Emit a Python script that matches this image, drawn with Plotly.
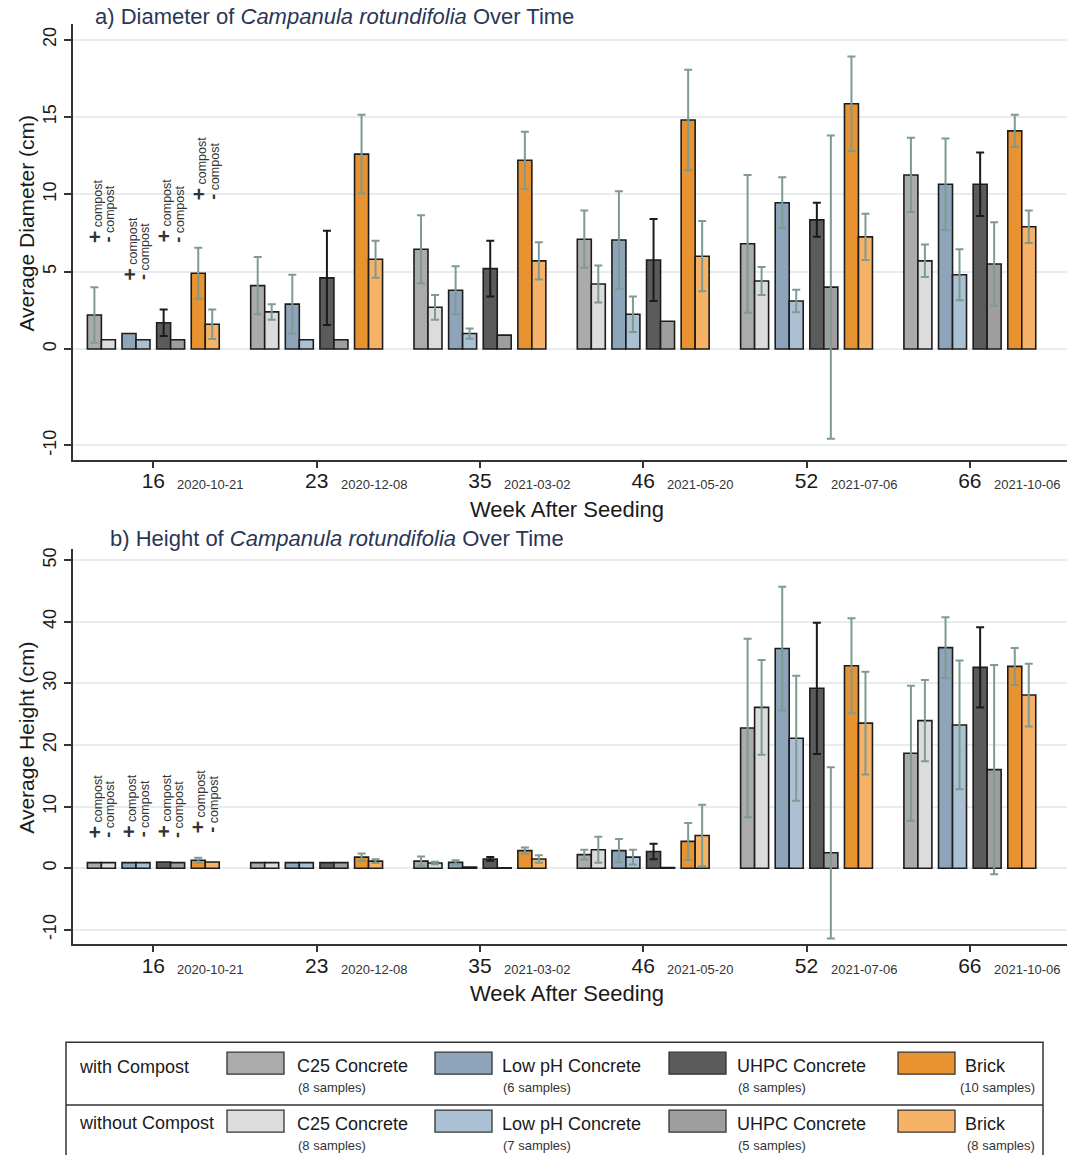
import numpy as np
import plotly.graph_objects as go

# ---------------- data ----------------
weeks = ["16", "23", "35", "46", "52", "66"]
dates = ["2020-10-21", "2020-12-08", "2021-03-02", "2021-05-20", "2021-07-06", "2021-10-06"]
materials = ["C25 Concrete", "Low pH Concrete", "UHPC Concrete", "Brick"]
samples_with = [8, 6, 8, 10]
samples_without = [8, 7, 5, 8]

# a) Diameter (cm): mean and error (None = no visible bar)
diam_c25_with = [2.2, 4.1, 6.45, 7.1, 6.8, 11.25]
diam_c25_with_err = [1.8, 1.85, 2.2, 1.85, 4.45, 2.4]
diam_c25_without = [0.6, 2.4, 2.7, 4.2, 4.4, 5.7]
diam_c25_without_err = [None, 0.5, 0.8, 1.2, 0.9, 1.05]
diam_lowph_with = [1.0, 2.9, 3.8, 7.05, 9.45, 10.65]
diam_lowph_with_err = [None, 1.9, 1.55, 3.15, 1.65, 2.95]
diam_lowph_without = [0.6, 0.6, 1.0, 2.25, 3.1, 4.8]
diam_lowph_without_err = [None, None, 0.33, 1.15, 0.73, 1.65]
diam_uhpc_with = [1.7, 4.6, 5.2, 5.75, 8.35, 10.65]
diam_uhpc_with_err = [0.85, 3.05, 1.8, 2.65, 1.1, 2.05]
diam_uhpc_without = [0.6, 0.6, 0.9, 1.8, 4.0, 5.5]
diam_uhpc_without_err = [None, None, None, None, 9.8, 2.7]
diam_brick_with = [4.9, 12.6, 12.2, 14.8, 15.85, 14.1]
diam_brick_with_err = [1.65, 2.55, 1.85, 3.25, 3.05, 1.05]
diam_brick_without = [1.6, 5.8, 5.7, 6.0, 7.25, 7.9]
diam_brick_without_err = [0.95, 1.2, 1.2, 2.27, 1.5, 1.05]

# b) Height (cm)
height_c25_with = [0.9, 0.9, 1.15, 2.2, 22.75, 18.65]
height_c25_with_err = [None, None, 0.75, 0.8, 14.5, 10.95]
height_c25_without = [0.9, 0.9, 0.85, 3.0, 26.1, 23.95]
height_c25_without_err = [None, None, 0.2, 2.1, 7.7, 6.6]
height_lowph_with = [0.9, 0.9, 0.95, 2.85, 35.65, 35.8]
height_lowph_with_err = [None, None, 0.35, 1.9, 10.05, 4.95]
height_lowph_without = [0.9, 0.9, 0.2, 1.8, 21.1, 23.25]
height_lowph_without_err = [None, None, None, 1.2, 10.15, 10.45]
height_uhpc_with = [1.0, 0.9, 1.5, 2.7, 29.2, 32.6]
height_uhpc_with_err = [None, None, 0.3, 1.25, 10.65, 6.5]
height_uhpc_without = [0.9, 0.9, 0.05, 0.1, 2.5, 16.0]
height_uhpc_without_err = [None, None, None, None, 13.9, 17.0]
height_brick_with = [1.3, 1.8, 2.85, 4.35, 32.85, 32.75]
height_brick_with_err = [0.4, 0.6, 0.5, 3.0, 7.7, 3.0]
height_brick_without = [1.0, 1.15, 1.5, 5.3, 23.55, 28.1]
height_brick_without_err = [None, 0.3, 0.6, 5.0, 8.35, 5.1]

# y ticks (the reference's diameter axis compresses its negative side: the
# gridline labelled "-10" sits where -6.23 falls on the positive-side scale)
diam_tickvals = [-6.23, 0, 5, 10, 15, 20]
diam_ticktext = ["-10", "0", "5", "10", "15", "20"]
height_tickvals = [-10, 0, 10, 20, 30, 40, 50]
height_ticktext = ["-10", "0", "10", "20", "30", "40", "50"]

# ---------------- styling / layout ----------------
W, H = 1069, 1155
FONT = "Liberation Sans, Arial, sans-serif"
ERR_COL = "#7d9b92"
EDGE = "#1c1c1c"
TITLE_COL = "#2a3656"
fill_with = ["#ababab", "#8ea4bb", "#5b5b5b", "#e8932f"]
fill_without = ["#dcdcdc", "#abc0d3", "#9e9e9e", "#f6b368"]
err_with = [ERR_COL, ERR_COL, "#1a1a1a", ERR_COL]
pair_center = [-0.318, -0.106, 0.106, 0.318]
bar_w = 0.0857


def px_x(p):
    return p / W


def px_y(p):
    return 1 - p / H


def errs(lst):
    return np.array([np.nan if v is None else v for v in lst], dtype=float)


diam_with = [diam_c25_with, diam_lowph_with, diam_uhpc_with, diam_brick_with]
diam_with_e = [diam_c25_with_err, diam_lowph_with_err, diam_uhpc_with_err, diam_brick_with_err]
diam_without = [diam_c25_without, diam_lowph_without, diam_uhpc_without, diam_brick_without]
diam_without_e = [diam_c25_without_err, diam_lowph_without_err, diam_uhpc_without_err, diam_brick_without_err]
height_with = [height_c25_with, height_lowph_with, height_uhpc_with, height_brick_with]
height_with_e = [height_c25_with_err, height_lowph_with_err, height_uhpc_with_err, height_brick_with_err]
height_without = [height_c25_without, height_lowph_without, height_uhpc_without, height_brick_without]
height_without_e = [height_c25_without_err, height_lowph_without_err, height_uhpc_without_err, height_brick_without_err]

fig = go.Figure()


def add_panel(vw, ew, vwo, ewo, xa, ya):
    for k in range(4):
        for vals, ev, fill, ec, off, tag in [
            (vw[k], ew[k], fill_with[k], err_with[k], pair_center[k] - bar_w, "with"),
            (vwo[k], ewo[k], fill_without[k], ERR_COL, pair_center[k], "without"),
        ]:
            fig.add_trace(go.Bar(
                x=weeks, y=vals, width=bar_w, offset=off,
                xaxis=xa, yaxis=ya,
                marker=dict(color=fill, line=dict(color=EDGE, width=1.6)),
                error_y=dict(type="data", array=errs(ev), visible=True,
                             color=ec, thickness=2, width=4),
                name=f"{materials[k]} ({tag} compost)", showlegend=False,
            ))


add_panel(diam_with, diam_with_e, diam_without, diam_without_e, "x", "y")
add_panel(height_with, height_with_e, height_without, height_without_e, "x2", "y2")

x_dom = [px_x(73.3), px_x(1067)]
xcommon = dict(type="category", range=[-0.49, 5.595], showline=True, linecolor="#333",
               linewidth=1.5, ticks="outside", ticklen=7, tickwidth=1.5, tickcolor="#333",
               tickfont=dict(size=21, color="#1a1a1a", family=FONT), showgrid=False,
               ticklabelstandoff=-5,
               zeroline=False, domain=x_dom, fixedrange=True)
ycommon = dict(showline=True, linecolor="#333", linewidth=1.5, ticks="outside", ticklen=8,
               tickwidth=1.5, tickcolor="#333", tickangle=-90,
               tickfont=dict(size=18, color="#1a1a1a", family=FONT),
               showgrid=True, gridcolor="#e6ecef", gridwidth=1.5, zeroline=False,
               fixedrange=True)

fig.update_layout(
    width=W, height=H, margin=dict(l=0, r=0, t=0, b=0),
    paper_bgcolor="white", plot_bgcolor="white",
    font=dict(family=FONT, color="#1a1a1a"),
    barmode="overlay", showlegend=False,
    xaxis=dict(anchor="y", **xcommon),
    yaxis=dict(anchor="x", domain=[px_y(458.3), px_y(22)], range=[-7.14, 21.01],
               tickmode="array", tickvals=diam_tickvals, ticktext=diam_ticktext, **ycommon),
    xaxis2=dict(anchor="y2", **xcommon),
    yaxis2=dict(anchor="x2", domain=[px_y(943.3), px_y(548)], range=[-12.25, 51.8],
                tickmode="array", tickvals=height_tickvals, ticktext=height_ticktext, **ycommon),
)

ann = []
# panel titles
ann.append(dict(text="a) Diameter of <i>Campanula rotundifolia</i> Over Time", xref="paper", yref="paper",
                x=px_x(93), y=px_y(15), xanchor="left", yanchor="middle", showarrow=False,
                font=dict(size=22, color=TITLE_COL, family=FONT)))
ann.append(dict(text="b) Height of <i>Campanula rotundifolia</i> Over Time", xref="paper", yref="paper",
                x=px_x(108), y=px_y(537), xanchor="left", yanchor="middle", showarrow=False,
                font=dict(size=22, color=TITLE_COL, family=FONT)))
# axis titles
for txt, ypx in [("Average Diameter (cm)", 222), ("Average Height (cm)", 737)]:
    ann.append(dict(text=txt, xref="paper", yref="paper", x=px_x(27), y=px_y(ypx), textangle=-90,
                    xanchor="center", yanchor="middle", showarrow=False,
                    font=dict(size=21, color="#1a1a1a", family=FONT)))
for ypx in [508, 993]:
    ann.append(dict(text="Week After Seeding", xref="paper", yref="paper", x=px_x(567), y=px_y(ypx),
                    xanchor="center", yanchor="middle", showarrow=False,
                    font=dict(size=22, color="#1a1a1a", family=FONT)))
# dates next to the week ticks
for xa, ypx in [("x", 483), ("x2", 969)]:
    for i, d in enumerate(dates):
        ann.append(dict(text=d, xref=xa, yref="paper", x=i, y=px_y(ypx), xshift=22,
                        xanchor="left", yanchor="middle", showarrow=False,
                        font=dict(size=13, color="#333", family=FONT)))
# +/- compost markers above the first group
plus_txt = "<span style='font-size:21px'><b>+</b></span> compost"
minus_txt = "<span style='font-size:18px'><b>-</b></span> compost"
diam_label_y = [6.75, 4.3, 6.75, 9.5]
height_label_y = [4.6, 4.6, 4.6, 5.4]
for xa, ya, ly in [("x", "y", diam_label_y), ("x2", "y2", height_label_y)]:
    for k in range(4):
        for txt, dx in [(plus_txt, -bar_w / 2), (minus_txt, bar_w / 2)]:
            ann.append(dict(text=txt, xref=xa, yref=ya, x=pair_center[k] + dx, y=ly[k],
                            textangle=-90, xanchor="center", yanchor="bottom", showarrow=False,
                            font=dict(size=12.5, color="#333", family=FONT)))

# ---------------- legend box (shapes + text) ----------------
shapes = []
box_l, box_r, box_t, box_mid = 66, 1043, 1042, 1105
shapes.append(dict(type="rect", xref="paper", yref="paper", x0=px_x(box_l), x1=px_x(box_r),
                   y0=px_y(1170), y1=px_y(box_t), line=dict(color="#333", width=1.5)))
shapes.append(dict(type="line", xref="paper", yref="paper", x0=px_x(box_l), x1=px_x(box_r),
                   y0=px_y(box_mid), y1=px_y(box_mid), line=dict(color="#333", width=1.5)))
sw_left = [227, 435, 669, 898]
txt_left = [295, 500, 735, 963]
rows = [("with Compost", fill_with, samples_with, 1052, 1066.5),
        ("without Compost", fill_without, samples_without, 1110, 1122.5)]
for label, fills, samples, sw_top, ty in rows:
    ann.append(dict(text=label, xref="paper", yref="paper", x=px_x(77), y=px_y(ty),
                    xanchor="left", yanchor="middle", showarrow=False,
                    font=dict(size=18, color="#1a1a1a", family=FONT)))
    for k in range(4):
        shapes.append(dict(type="rect", xref="paper", yref="paper",
                           x0=px_x(sw_left[k]), x1=px_x(sw_left[k] + 57),
                           y0=px_y(sw_top + 22), y1=px_y(sw_top),
                           fillcolor=fills[k], line=dict(color="#333", width=1.3)))
        ann.append(dict(text=materials[k], xref="paper", yref="paper", x=px_x(txt_left[k]),
                        y=px_y(sw_top + 14), xanchor="left", yanchor="middle", showarrow=False,
                        font=dict(size=18, color="#1a1a1a", family=FONT)))
        s_txt = f"({samples[k]} samples)"
        if k == 3:
            ann.append(dict(text=s_txt, xref="paper", yref="paper", x=px_x(1037),
                            y=px_y(sw_top + 35), xanchor="right", yanchor="middle", showarrow=False,
                            font=dict(size=13, color="#333", family=FONT)))
        else:
            ann.append(dict(text=s_txt, xref="paper", yref="paper", x=px_x(txt_left[k] + 1),
                            y=px_y(sw_top + 35), xanchor="left", yanchor="middle", showarrow=False,
                            font=dict(size=13, color="#333", family=FONT)))

fig.update_layout(annotations=ann, shapes=shapes)
fig.write_html("out.html", config={"displayModeBar": False},
               post_script="document.body.style.margin='0';document.body.style.overflow='hidden';")
